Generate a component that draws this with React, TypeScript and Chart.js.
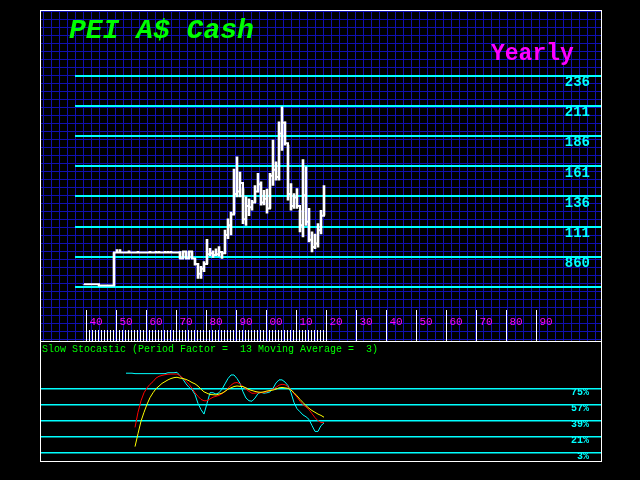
import React, { useEffect, useRef } from "react";
import { Chart, registerables } from "chart.js";

Chart.register(...registerables);

// ---------- price panel (yearly bars) ----------
const BAR_YEARS = [
  1939, 1940, 1941, 1942, 1943, 1944, 1945, 1946, 1947, 1948,
  1949, 1950, 1951, 1952, 1953, 1954, 1955, 1956, 1957, 1958,
  1959, 1960, 1961, 1962, 1963, 1964, 1965, 1966, 1967, 1968,
  1969, 1970, 1971, 1972, 1973, 1974, 1975, 1976, 1977, 1978,
  1979, 1980, 1981, 1982, 1983, 1984, 1985, 1986, 1987, 1988,
  1989, 1990, 1991, 1992, 1993, 1994, 1995, 1996, 1997, 1998,
  1999, 2000, 2001, 2002, 2003, 2004, 2005, 2006, 2007, 2008,
  2009, 2010, 2011, 2012, 2013, 2014, 2015, 2016, 2017, 2018, 2019,
];
const HIGH = [
  63.3, 63.3, 63.3, 63.3, 63.3, 62.3, 62.3, 62.3, 62.3, 62.3,
  89.5, 92, 92, 89.5, 89.5, 91, 89.5, 89.5, 90.5, 89.5,
  89.5, 89.5, 90.5, 89.5, 90.5, 90.5, 89.5, 90.5, 90.5, 90.5,
  89.5, 89.5, 90.3, 90.3, 90.3, 90.3, 90.3, 84.6, 80.5, 78,
  82, 100.5, 93, 91, 92.5, 94.5, 90, 108, 117.5, 123,
  158.5, 168.7, 156, 142.5, 135.6, 134, 132.8, 145, 155, 148,
  141, 142, 155, 182.5, 164.6, 197.7, 210, 197.7, 178.4, 146.6,
  138.4, 142.5, 124.5, 166.5, 160.5, 126, 106.6, 104.7, 113.5, 124.5, 145,
];
const LOW = [
  63.3, 63.3, 63.3, 63.3, 63.3, 62.3, 62.3, 62.3, 62.3, 62.3,
  62.3, 89.5, 89.5, 89.5, 89.5, 89.5, 89.5, 89.5, 89.5, 89.5,
  89.5, 89.5, 89.5, 89.5, 89.5, 89.5, 89.5, 89.5, 89.5, 89.5,
  89.5, 89.5, 84.6, 84.6, 84.6, 84.6, 84.6, 79, 68.2, 68.2,
  73.6, 80, 87, 85.5, 87, 86.5, 84.6, 88.5, 101, 104,
  121.5, 135.6, 135.6, 113.5, 112, 120, 124.5, 131, 139.7, 128.7,
  129, 122, 126, 145, 149.4, 149.4, 174, 178.4, 132.8, 124.5,
  126, 126, 106.6, 102.5, 112, 98.3, 90, 92.8, 94, 105, 120.4,
];
const CLOSE = [
  63.3, 63.3, 63.3, 63.3, 63.3, 62.3, 62.3, 62.3, 62.3, 62.3,
  89.5, 89.5, 89.5, 89.5, 89.5, 89.5, 89.5, 89.5, 89.5, 89.5,
  89.5, 89.5, 89.5, 89.5, 89.5, 89.5, 89.5, 89.5, 89.5, 89.5,
  89.5, 89.5, 84.6, 90.3, 84.6, 90.3, 84.6, 80, 72, 76,
  80, 88, 89, 87.5, 88, 90, 89, 104, 112, 121,
  138, 140, 147, 117, 128, 127, 131, 140, 146, 131,
  134, 126, 153, 158, 152, 188, 197, 180, 138, 128,
  135, 128, 112, 137, 115, 100, 94, 97, 108, 120, 136,
];
const PRICE_TICKS = [61, 86, 111, 136, 161, 186, 211, 236];
const PRICE_LABELS = ["", "860", "111", "136", "161", "186", "211", "236"];
const DECADES = [1940, 1950, 1960, 1970, 1980, 1990, 2000, 2010, 2020, 2030, 2040, 2050, 2060, 2070, 2080, 2090];
const DECADE_LABELS = ["40", "50", "60", "70", "80", "90", "00", "10", "20", "30", "40", "50", "60", "70", "80", "90"];

// ---------- slow stochastic panel ----------
const STOCH_YEARS = [
  1953, 1954, 1955, 1956, 1957, 1958, 1959, 1960, 1961, 1962,
  1963, 1964, 1965, 1966, 1967, 1968, 1969, 1970, 1971, 1972,
  1973, 1974, 1975, 1976, 1977, 1978, 1979, 1980, 1981, 1982,
  1983, 1984, 1985, 1986, 1987, 1988, 1989, 1990, 1991, 1992,
  1993, 1994, 1995, 1996, 1997, 1998, 1999, 2000, 2001, 2002,
  2003, 2004, 2005, 2006, 2007, 2008, 2009, 2010, 2011, 2012,
  2013, 2014, 2015, 2016, 2017, 2018, 2019,
];
const FAST_K = [
  92, 92, 92, 91.5, 91.5, 91.5, 91.5, 91.5, 91.5, 91.5,
  91.5, 91.5, 91.5, 91.5, 92.5, 92.5, 92.5, 93, 89, 85,
  80, 76, 73.5, 68, 58, 51, 46, 58, 70, 70,
  68.5, 70, 74, 80, 86, 90, 90, 86, 80.6, 71,
  64, 61, 60.5, 64, 69, 70.5, 69.5, 70, 71, 75,
  81, 84.5, 84.5, 82, 78, 70, 59, 52, 48.6, 45,
  43, 40, 33, 26.5, 26.5, 33, 36,
];
const SLOW_K = [
  null, null, null, 31, 48, 61, 70, 75.5, 79.5, 82.5,
  86.5, 88.5, 89.5, 90.3, 90.8, 91, 91, 91, 89, 86.5,
  83, 79.5, 75, 70, 66, 62.5, 61, 61, 63, 65,
  66, 67, 69, 71.5, 75, 78.5, 81, 81.5, 80, 77,
  74, 71.5, 69.4, 69.5, 70, 70, 70.5, 71, 72.5, 74,
  76, 78.5, 79.5, 79, 77, 73.5, 69, 65, 60.5, 56.5,
  54, 51, 46.5, 42, 38.5, 36.5, 36.5,
];
const SLOW_D = [
  null, null, null, 9.4, 24, 38, 48, 57, 64.5, 70,
  74.5, 77.5, 80.5, 82.5, 84.5, 86, 87, 87.4, 86.5, 86,
  85, 83.5, 81.5, 80, 77.5, 74, 71, 69.5, 68, 67.8,
  67.5, 68.5, 69.5, 71.5, 74, 75.5, 77, 77.6, 77.2, 76.9,
  75.5, 73.5, 72.5, 71.5, 70.8, 70.5, 71, 72, 72.5, 73,
  74, 75.5, 76, 75.5, 75, 73, 70, 66.5, 62.5, 59,
  55.5, 52.5, 50, 48, 46, 44.5, 42.5,
];
const STOCH_TICKS = [3, 21, 39, 57, 75];
const STOCH_LABELS = ["3%", "21%", "39%", "57%", "75%"];

const MONO = "'Liberation Mono', 'DejaVu Sans Mono', monospace";
const GRID_BLUE = "#1010b0";

// background blue grid of the price panel (decoration only)
const bgGrid = {
  id: "bgGrid",
  beforeDraw(chart: any) {
    const ctx = chart.ctx as CanvasRenderingContext2D;
    const w = chart.width;
    const h = chart.height;
    ctx.save();
    ctx.fillStyle = GRID_BLUE;
    for (let x = 3; x < w; x += 8) ctx.fillRect(x, 0, 1, h);
    for (let y = 1; y < h; y += 8) ctx.fillRect(0, y, w, 1);
    ctx.restore();
  },
};

export default function App() {
  const topRef = useRef<HTMLCanvasElement>(null);
  const botRef = useRef<HTMLCanvasElement>(null);

  useEffect(() => {
    const xMin = 1936;
    const xMax = 1940 + 514 / 3;
    const pxPerUnit = 211.5 / 175;
    const top = new Chart(topRef.current as HTMLCanvasElement, {
      type: "bar",
      data: {
        datasets: [
          {
            type: "line",
            data: BAR_YEARS.map((x, i) => ({ x, y: CLOSE[i] })),
            borderColor: "#ffffff",
            borderWidth: 2,
            stepped: "before",
            pointRadius: 0,
            xAxisID: "x",
            yAxisID: "y",
          } as any,
          {
            type: "bar",
            data: BAR_YEARS.map((x, i) => ({ x, y: [LOW[i], HIGH[i]] })),
            backgroundColor: "#ffffff",
            borderWidth: 0,
            barThickness: 2,
            xAxisID: "x",
            yAxisID: "y",
          } as any,
        ],
      },
      options: {
        animation: false,
        responsive: false,
        maintainAspectRatio: false,
        layout: { padding: { left: 35, top: 65.5, right: 0, bottom: 0 } },
        plugins: { legend: { display: false }, tooltip: { enabled: false } },
        scales: {
          x: {
            type: "linear",
            position: "bottom",
            weight: 0,
            offset: false,
            min: xMin,
            max: xMax,
            afterBuildTicks: (s: any) => {
              s.ticks = DECADES.map((v) => ({ value: v }));
            },
            afterFit: (s: any) => {
              s.height = 31;
            },
            grid: { offset: false, drawOnChartArea: false, drawTicks: true, tickLength: 31, tickColor: "#ffffff", tickWidth: 1 },
            border: { display: false },
            ticks: {
              autoSkip: false,
              maxRotation: 0,
              minRotation: 0,
              color: "#ff00ff",
              padding: -25.5,
              labelOffset: 9,
              font: { family: MONO, size: 11 },
              callback: (_v: any, i: number) => DECADE_LABELS[i],
            },
          },
          xMinor: {
            type: "linear",
            position: "bottom",
            weight: 1,
            offset: false,
            min: xMin,
            max: xMax,
            afterBuildTicks: (s: any) => {
              s.ticks = BAR_YEARS.filter((y) => y >= 1940).map((v) => ({ value: v }));
            },
            afterFit: (s: any) => {
              s.height = 0;
            },
            grid: { offset: false, drawOnChartArea: false, drawTicks: true, tickLength: -11, tickColor: "#ffffff", tickWidth: 1 },
            border: { display: false },
            ticks: { display: false },
          },
          y: {
            type: "linear",
            position: "right",
            min: 236 - 234.5 / pxPerUnit,
            max: 236,
            afterBuildTicks: (s: any) => {
              s.ticks = PRICE_TICKS.map((v) => ({ value: v }));
            },
            afterFit: (s: any) => {
              s.width = 0;
            },
            grid: { color: "#00ffff", lineWidth: 2, drawTicks: false },
            border: { display: false },
            ticks: {
              mirror: true,
              padding: -11,
              labelOffset: 7,
              color: "#00ffff",
              font: { family: MONO, size: 14, weight: "bold" },
              callback: (_v: any, i: number) => PRICE_LABELS[i],
            },
          },
        },
      } as any,
      plugins: [bgGrid],
    });

    const bottom = new Chart(botRef.current as HTMLCanvasElement, {
      type: "line",
      data: {
        datasets: [
          {
            data: STOCH_YEARS.map((x, i) => ({ x, y: SLOW_D[i] })),
            borderColor: "#ffff00",
            borderWidth: 1,
            pointRadius: 0,
          },
          {
            data: STOCH_YEARS.map((x, i) => ({ x, y: SLOW_K[i] })),
            borderColor: "#ff0000",
            borderWidth: 1,
            pointRadius: 0,
          },
          {
            data: STOCH_YEARS.map((x, i) => ({ x, y: FAST_K[i] })),
            borderColor: "#00ffff",
            borderWidth: 1,
            pointRadius: 0,
          },
        ] as any,
      },
      options: {
        animation: false,
        responsive: false,
        maintainAspectRatio: false,
        layout: { padding: 0 },
        plugins: { legend: { display: false }, tooltip: { enabled: false } },
        scales: {
          x: { type: "linear", offset: false, min: 1940 - 47 / 3, max: xMax, display: false },
          y: {
            type: "linear",
            position: "right",
            min: 3 - 8.7 * 1.125,
            max: 3 - 8.7 * 1.125 + 135,
            afterBuildTicks: (s: any) => {
              s.ticks = STOCH_TICKS.map((v) => ({ value: v }));
            },
            afterFit: (s: any) => {
              s.width = 0;
            },
            grid: { color: "#00ffff", lineWidth: 1.5, drawTicks: false },
            border: { display: false },
            ticks: {
              mirror: true,
              padding: -12,
              labelOffset: 4,
              color: "#00ffff",
              font: { family: MONO, size: 10, weight: "bold" },
              callback: (_v: any, i: number) => STOCH_LABELS[i],
            },
          },
        },
      } as any,
    });

    return () => {
      top.destroy();
      bottom.destroy();
    };
  }, []);

  return (
    <div style={{ position: "fixed", left: 0, top: 0, width: 640, height: 480, background: "#000", overflow: "hidden" }}>
      <canvas ref={topRef} width={561} height={331} style={{ position: "absolute", left: 40, top: 10, width: 561, height: 331 }} />
      <canvas ref={botRef} width={561} height={120} style={{ position: "absolute", left: 40, top: 341, width: 561, height: 120 }} />
      <div
        style={{
          position: "absolute",
          left: 69,
          top: 17,
          fontFamily: MONO,
          fontSize: 28,
          lineHeight: "28px",
          fontWeight: "bold",
          fontStyle: "italic",
          color: "#00ff00",
          whiteSpace: "pre",
        }}
      >
        PEI A$ Cash
      </div>
      <div
        style={{
          position: "absolute",
          left: 491,
          top: 43,
          fontFamily: MONO,
          fontSize: 23,
          lineHeight: "23px",
          fontWeight: "bold",
          color: "#ff00ff",
          whiteSpace: "pre",
        }}
      >
        Yearly
      </div>
      <div
        style={{
          position: "absolute",
          left: 42,
          top: 345,
          fontFamily: MONO,
          fontSize: 10,
          lineHeight: "10px",
          color: "#00ff00",
          whiteSpace: "pre",
        }}
      >
        Slow Stocastic (Period Factor =  13 Moving Average =  3)
      </div>
      <div style={{ position: "absolute", left: 40, top: 10, width: 560, height: 450, border: "1px solid #ffffff" }} />
      <div style={{ position: "absolute", left: 40, top: 341, width: 562, height: 1, background: "#ffffff" }} />
    </div>
  );
}
